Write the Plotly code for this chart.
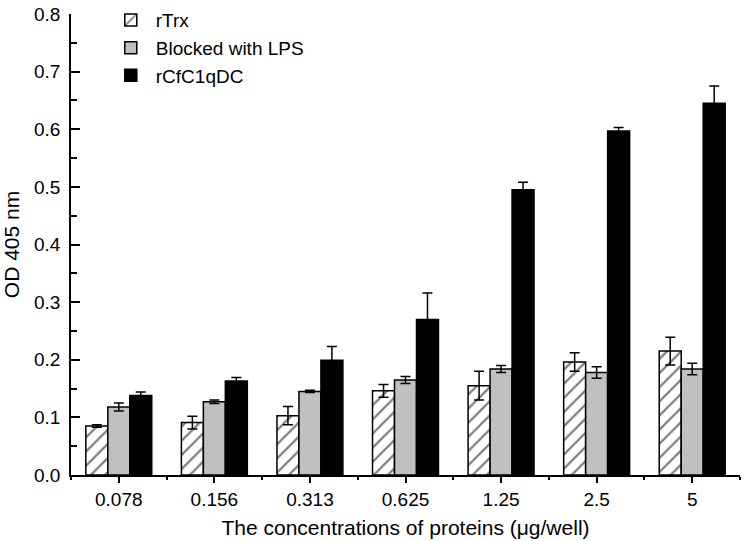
import plotly.graph_objects as go

categories = ["0.078", "0.156", "0.313", "0.625", "1.25", "2.5", "5"]
rtrx = [0.085, 0.091, 0.103, 0.146, 0.155, 0.196, 0.215]
rtrx_err = [0.002, 0.011, 0.016, 0.011, 0.025, 0.016, 0.024]
blocked = [0.118, 0.127, 0.145, 0.165, 0.184, 0.178, 0.184]
blocked_err = [0.007, 0.003, 0.002, 0.006, 0.006, 0.010, 0.010]
rcfc = [0.138, 0.163, 0.199, 0.270, 0.495, 0.597, 0.645]
rcfc_err = [0.006, 0.006, 0.024, 0.046, 0.013, 0.006, 0.030]

xpos = list(range(len(categories)))
FONT = "Liberation Sans, Arial, sans-serif"

def ebar(vals):
    return dict(type="data", array=vals, visible=True, color="black", thickness=1.5, width=5)

fig = go.Figure()
fig.add_trace(go.Bar(
    x=xpos, y=rtrx, name="rTrx", error_y=ebar(rtrx_err),
    marker=dict(color="white", line=dict(color="black", width=1.5),
                pattern=dict(shape="/", fgcolor="black", bgcolor="white", size=10, solidity=0.22)),
))
fig.add_trace(go.Bar(
    x=xpos, y=blocked, name="Blocked with LPS", error_y=ebar(blocked_err),
    marker=dict(color="#c0c0c0", line=dict(color="black", width=1.5)),
))
fig.add_trace(go.Bar(
    x=xpos, y=rcfc, name="rCfC1qDC", error_y=ebar(rcfc_err),
    marker=dict(color="black", line=dict(color="black", width=1.5)),
))

fig.update_layout(
    width=744, height=541,
    margin=dict(l=71, r=4, t=14, b=66, autoexpand=False),
    plot_bgcolor="white", paper_bgcolor="white",
    barmode="group", bargap=0.31, bargroupgap=0,
    font=dict(family=FONT, size=19, color="black"),
    legend=dict(x=0.052, y=1.028, xanchor="left", yanchor="top",
                bgcolor="rgba(0,0,0,0)", font=dict(size=19), tracegroupgap=0,
                itemwidth=40),
    xaxis=dict(
        range=[-0.5, 6.5], tickmode="array", tickvals=xpos, ticktext=categories,
        showline=True, linecolor="black", linewidth=1.5,
        ticks="outside", ticklen=6, tickwidth=1.5, tickcolor="black",
        minor=dict(tickmode="array", tickvals=[i + 0.5 for i in range(-1, 7)],
                   ticks="outside", ticklen=3, tickwidth=1.5, tickcolor="black"),
        showgrid=False, zeroline=False, ticklabeloverflow="allow",
        title=dict(text="The concentrations of proteins (μg/well)", font=dict(size=21), standoff=12),
    ),
    yaxis=dict(
        range=[0, 0.8], dtick=0.1, tickformat=".1f",
        showline=True, linecolor="black", linewidth=1.5,
        ticks="inside", ticklen=9, tickwidth=1.5, tickcolor="black",
        minor=dict(dtick=0.05, ticks="inside", ticklen=6, tickwidth=1.5, tickcolor="black"),
        showgrid=False, zeroline=False, ticklabelstandoff=5,
        ticklabeloverflow="allow",
        title=dict(text="OD 405 nm", font=dict(size=21), standoff=12),
    ),
)

fig.write_html("out.html", config={"displayModeBar": False},
               post_script="document.body.style.margin='0';")
